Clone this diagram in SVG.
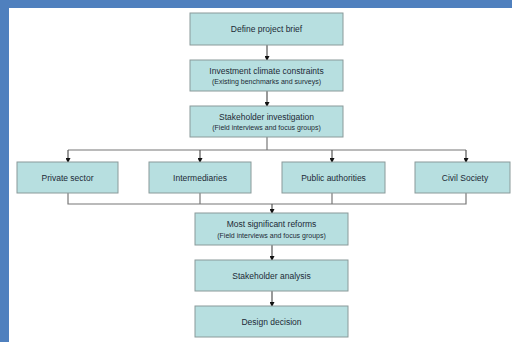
<svg xmlns="http://www.w3.org/2000/svg" width="512" height="342" viewBox="0 0 512 342">
  <defs>
    <marker id="arr" markerWidth="5" markerHeight="5" refX="4" refY="2.5" orient="auto" markerUnits="userSpaceOnUse">
      <path d="M0,0 L5,2.5 L0,5 Z" fill="#111"/>
    </marker>
    <style>
      .box { fill: #b7dfe0; stroke: #8a9a9a; stroke-width: 1; }
      .t { font-family: "Liberation Sans", Arial, sans-serif; font-size: 8.5px; fill: #1c2a36; text-anchor: middle; }
      .s { font-family: "Liberation Sans", Arial, sans-serif; font-size: 7px; fill: #1c2a36; text-anchor: middle; }
      .ln { fill: none; stroke: #777; stroke-width: 1.2; }
      .ar { fill: none; stroke: #555; stroke-width: 1.2; marker-end: url(#arr); }
    </style>
  </defs>

  <!-- page background with blue frame on left and top -->
  <rect x="0" y="0" width="512" height="342" fill="#ffffff"/>
  <rect x="0" y="0" width="512" height="8" fill="#4f80be"/>
  <rect x="0" y="0" width="9" height="342" fill="#4f80be"/>

  <!-- connectors -->
  <g id="connectors">
    <line class="ar" x1="267" y1="45" x2="267" y2="60"/>
    <line class="ar" x1="267" y1="91" x2="267" y2="106"/>
    <polyline class="ln" points="267,137 267,150"/>
    <polyline class="ln" points="68,150 466,150"/>
    <line class="ar" x1="68" y1="150" x2="68" y2="162"/>
    <line class="ar" x1="200" y1="150" x2="200" y2="162"/>
    <line class="ar" x1="332" y1="150" x2="332" y2="162"/>
    <line class="ar" x1="466" y1="150" x2="466" y2="162"/>
    <polyline class="ln" points="68,193 68,204 466,204 466,193"/>
    <line class="ln" x1="200" y1="193" x2="200" y2="204"/>
    <line class="ln" x1="332" y1="193" x2="332" y2="204"/>
    <line class="ar" x1="272" y1="204" x2="272" y2="213"/>
    <line class="ar" x1="272" y1="245" x2="272" y2="260"/>
    <line class="ar" x1="272" y1="291" x2="272" y2="306"/>
  </g>

  <g id="brief">
    <rect class="box" x="190" y="13" width="153" height="32"/>
    <text class="t" x="266.5" y="32">Define project brief</text>
  </g>
  <g id="climate">
    <rect class="box" x="190" y="60" width="153" height="31"/>
    <text class="t" x="266.5" y="74">Investment climate constraints</text>
    <text class="s" x="266.5" y="84">(Existing benchmarks and surveys)</text>
  </g>
  <g id="investigation">
    <rect class="box" x="190" y="106" width="153" height="31"/>
    <text class="t" x="266.5" y="120">Stakeholder investigation</text>
    <text class="s" x="266.5" y="130">(Field interviews and focus groups)</text>
  </g>
  <g id="private">
    <rect class="box" x="17" y="162" width="101" height="31"/>
    <text class="t" x="67.5" y="180.5">Private sector</text>
  </g>
  <g id="intermediaries">
    <rect class="box" x="149" y="162" width="102" height="31"/>
    <text class="t" x="200" y="180.5">Intermediaries</text>
  </g>
  <g id="public">
    <rect class="box" x="282" y="162" width="103" height="31"/>
    <text class="t" x="333.5" y="180.5">Public authorities</text>
  </g>
  <g id="civil">
    <rect class="box" x="415" y="162" width="95" height="31"/>
    <text class="t" x="465" y="180.5">Civil Society</text>
  </g>
  <g id="reforms">
    <rect class="box" x="195" y="213" width="153" height="32"/>
    <text class="t" x="271.5" y="227">Most significant reforms</text>
    <text class="s" x="271.5" y="238">(Field interviews and focus groups)</text>
  </g>
  <g id="analysis">
    <rect class="box" x="195" y="260" width="153" height="31"/>
    <text class="t" x="271.5" y="278.5">Stakeholder analysis</text>
  </g>
  <g id="decision">
    <rect class="box" x="195" y="306" width="153" height="31"/>
    <text class="t" x="271.5" y="324.5">Design decision</text>
  </g>
</svg>
